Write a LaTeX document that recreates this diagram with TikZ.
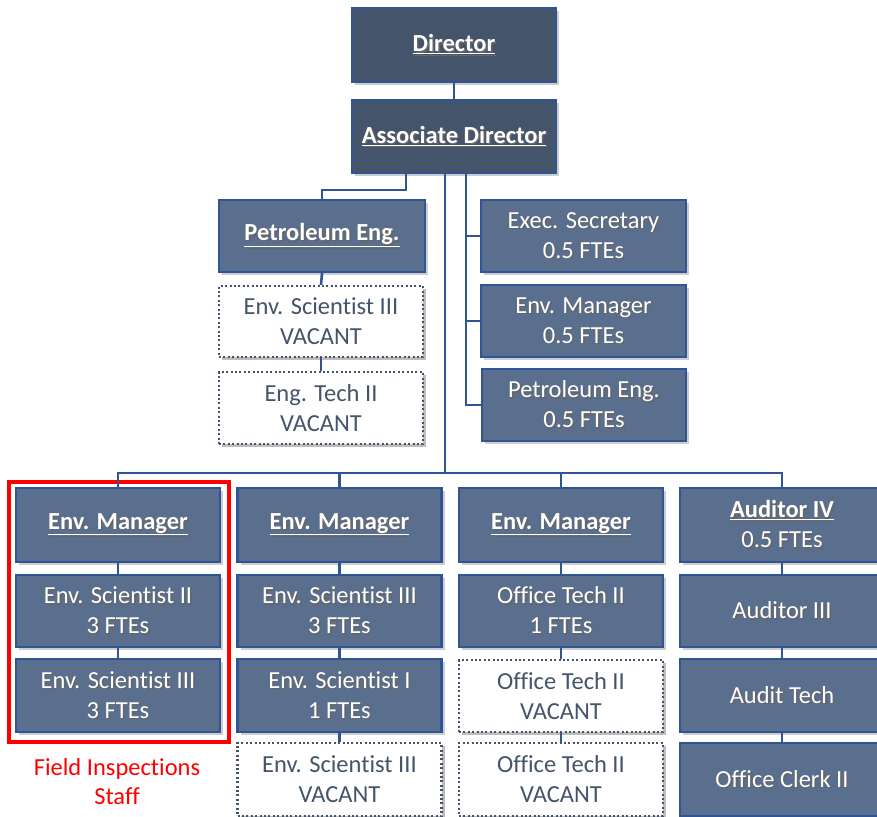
\documentclass[tikz,border=0pt]{standalone}
\usepackage{fontspec}
\setmainfont{Carlito}[Ligatures={NoCommon}]
\usetikzlibrary{shadows}
\definecolor{darkbox}{HTML}{44546A}
\definecolor{lightbox}{HTML}{5A6E8D}
\definecolor{edgeblue}{HTML}{2F5597}
\definecolor{vacgray}{HTML}{44546A}
\definecolor{fieldred}{HTML}{FF0000}
\newcommand\ts[1]{\makebox[0pt][l]{\hspace{1.5pt}\raisebox{-1.5pt}{\color{black!60}#1}}#1}
\newcommand\ttl[1]{\ts{\textbf{\underline{#1}}}}
\tikzset{
  orgbox/.style={draw=edgeblue, line width=2.2pt, fill=lightbox, text=white,
    minimum width=204pt, minimum height=72pt, align=center, inner sep=0pt,
    font=\fontsize{24.5}{30}\selectfont,
    drop shadow={shadow xshift=3pt, shadow yshift=-3pt, opacity=0.28, fill=black!70}},
  darkbox/.style={orgbox, fill=darkbox},
  vacbox/.style={orgbox, draw=vacgray, fill=white, text=vacgray,
    dash pattern=on 2pt off 2.4pt,
    drop shadow={shadow xshift=3pt, shadow yshift=-3pt, opacity=0.15, fill=black!60}},
  link/.style={draw=edgeblue, line width=2.6pt}
}
\begin{document}
\begin{tikzpicture}[x=1pt, y=-1pt]
\fill[white] (0,0) rectangle (877,816);
\useasboundingbox (0,0) rectangle (877,816);

% top
\node[darkbox, minimum height=74pt] (dir) at (454,45) {\ttl{Director}};
\node[darkbox, minimum height=73pt] (ad) at (454,136.5) {\ttl{Associate Director}};

% petroleum branch
\node[orgbox, minimum width=206pt] (pe) at (322,236) {\ttl{Petroleum Eng.}};
\node[vacbox, minimum height=71pt] (es3v) at (321,321.5) {Env. Scientist III\\VACANT};
\node[vacbox] (et2v) at (321,408) {Eng. Tech II\\VACANT};

% staff column
\node[orgbox, minimum width=205pt] (xs) at (583.5,236) {\ts{Exec. Secretary}\\\ts{0.5 FTEs}};
\node[orgbox, minimum width=205pt] (em05) at (583.5,321) {\ts{Env. Manager}\\\ts{0.5 FTEs}};
\node[orgbox] (pe05) at (584,405) {\ts{Petroleum Eng.}\\\ts{0.5 FTEs}};

% column 1
\node[orgbox, minimum height=74pt] (m1) at (118,525) {\ttl{Env. Manager}};
\node[orgbox] (a1) at (118,611) {\ts{Env. Scientist II}\\\ts{3 FTEs}};
\node[orgbox, minimum height=73pt] (b1) at (118,695.5) {\ts{Env. Scientist III}\\\ts{3 FTEs}};

% column 2
\node[orgbox, minimum height=74pt] (m2) at (339.5,525) {\ttl{Env. Manager}};
\node[orgbox] (a2) at (339.5,611) {\ts{Env. Scientist III}\\\ts{3 FTEs}};
\node[orgbox, minimum height=73pt] (b2) at (339.5,695.5) {\ts{Env. Scientist I}\\\ts{1 FTEs}};
\node[vacbox, minimum height=73pt] (c2) at (339.5,779.5) {Env. Scientist III\\VACANT};

% column 3
\node[orgbox, minimum height=74pt] (m3) at (561,525) {\ttl{Env. Manager}};
\node[orgbox] (a3) at (561,611) {\ts{Office Tech II}\\\ts{1 FTEs}};
\node[vacbox, minimum height=72pt] (b3) at (561,696) {Office Tech II\\VACANT};
\node[vacbox, minimum height=73pt] (c3) at (561,779.5) {Office Tech II\\VACANT};

% column 4
\node[orgbox, minimum height=74pt] (m4) at (782,525) {\ttl{Auditor IV}\\\ts{0.5 FTEs}};
\node[orgbox] (a4) at (782,611) {\ts{Auditor III}};
\node[orgbox, minimum height=73pt] (b4) at (782,695.5) {\ts{Audit Tech}};
\node[orgbox, minimum height=73pt] (c4) at (782,779.5) {\ts{Office Clerk II}};

% red frame and label
\node[draw=fieldred, line width=3.5pt, minimum width=220pt, minimum height=260pt, inner sep=0pt] (frame) at (119,612) {};
\node[text=fieldred, align=center, font=\fontsize{24.5}{29}\selectfont] (field) at (117,782) {Field Inspections\\Staff};

% connectors
\coordinate (bus) at (445,473);
\coordinate (spine) at (466,0);
\draw[link] (dir.south) -- (ad.north);
\draw[link] ([xshift=-48pt]ad.south) -- ++(0,16) -| (pe.north);
\draw[link] (pe.south) -- (es3v.north);
\draw[link] (es3v.south) -- (et2v.north);
\draw[link] ([xshift=12pt]ad.south) |- (pe05.west);
\draw[link] (xs.west) -- (xs.west -| spine);
\draw[link] (em05.west) -- (em05.west -| spine);
\draw[link] ([xshift=-9pt]ad.south) -- (bus);
\draw[link] (m1.north) |- (bus) -| (m4.north);
\draw[link] (m2.north) -- (m2.north |- bus);
\draw[link] (m3.north) -- (m3.north |- bus);
\draw[link] (m1.south) -- (a1.north);
\draw[link] (a1.south) -- (b1.north);
\draw[link] (m2.south) -- (a2.north);
\draw[link] (a2.south) -- (b2.north);
\draw[link] (b2.south) -- (c2.north);
\draw[link] (m3.south) -- (a3.north);
\draw[link] (a3.south) -- (b3.north);
\draw[link] (b3.south) -- (c3.north);
\draw[link] (m4.south) -- (a4.north);
\draw[link] (a4.south) -- (b4.north);
\draw[link] (b4.south) -- (c4.north);
\end{tikzpicture}
\end{document}
